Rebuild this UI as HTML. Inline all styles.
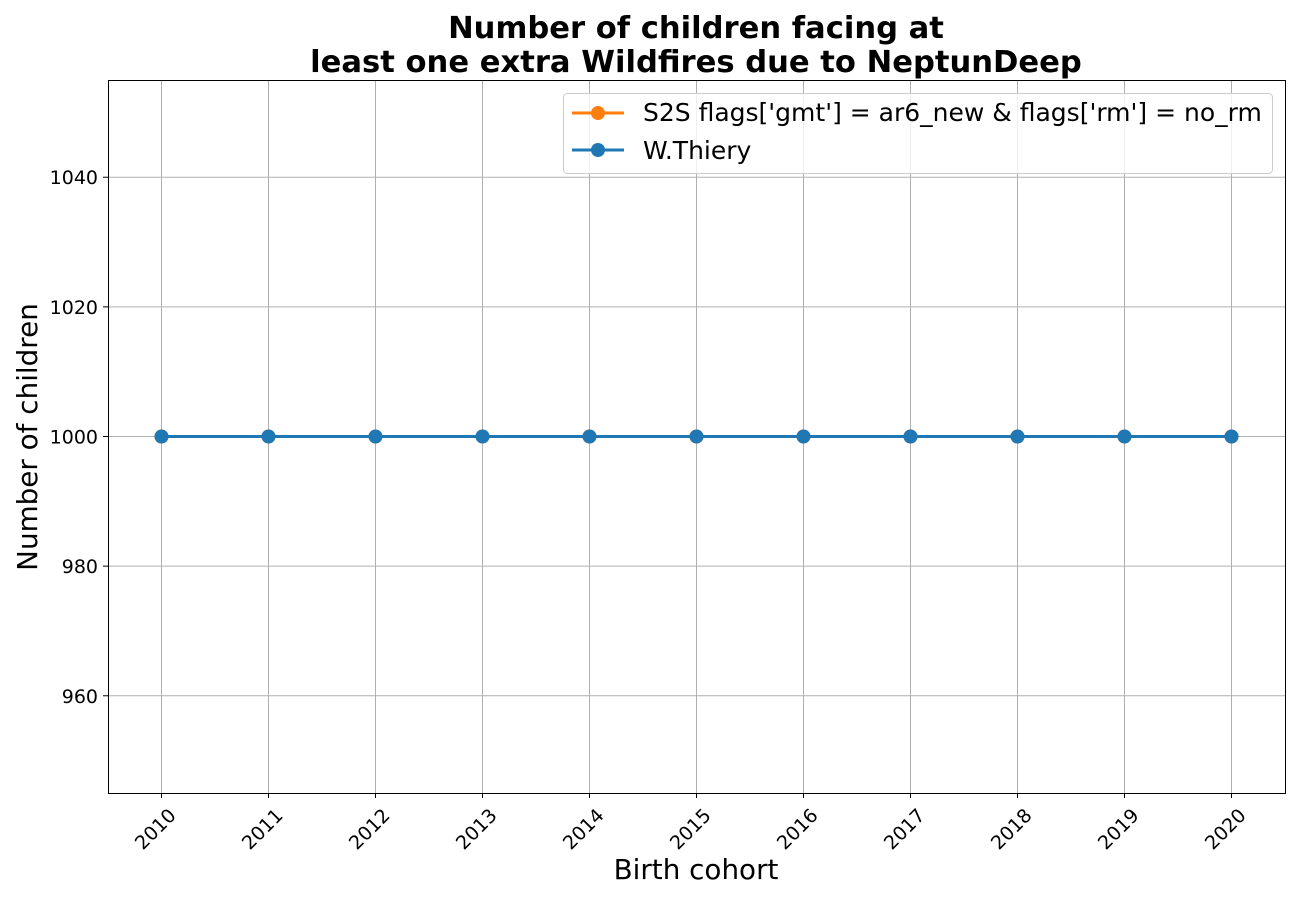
<!DOCTYPE html>
<html><head><meta charset="utf-8"><style>
body{margin:0;background:#fff;}
svg text{font-family:"DejaVu Sans","Liberation Sans",sans-serif;}
</style></head><body>
<svg id="chart" width="1300" height="900" xmlns="http://www.w3.org/2000/svg">
<text x="696" y="38" font-size="30.6" font-weight="bold" text-anchor="middle">Number of children facing at</text>
<text x="696" y="72" font-size="30.6" font-weight="bold" text-anchor="middle">least one extra Wildfires due to NeptunDeep</text>
<g id="grid"></g><g id="series"></g><g id="ticks"></g>
<rect x="108.5" y="80.5" width="1177" height="713" fill="none" stroke="#000" stroke-width="1"/>
<text transform="translate(37,437) rotate(-90)" font-size="27.8" text-anchor="middle">Number of children</text>
<text x="696" y="879" font-size="27.8" text-anchor="middle">Birth cohort</text>
<g>
<rect x="563.5" y="93.5" width="709" height="80" rx="4" fill="#fff" fill-opacity="0.8" stroke="#ccc"/>
<line x1="572" y1="113" x2="624" y2="113" stroke="#ff7f0e" stroke-width="3"/>
<circle cx="598" cy="113" r="7" fill="#ff7f0e"/>
<text x="643" y="121" font-size="25">S2S flags['gmt'] = ar6_new &amp; flags['rm'] = no_rm</text>
<line x1="572" y1="150" x2="624" y2="150" stroke="#1f77b4" stroke-width="3"/>
<circle cx="598" cy="150" r="7" fill="#1f77b4"/>
<text x="643" y="159" font-size="25">W.Thiery</text>
</g>
</svg>
<script>
const years=[2010,2011,2012,2013,2014,2015,2016,2017,2018,2019,2020];
const s2sValues=[1000,1000,1000,1000,1000,1000,1000,1000,1000,1000,1000];
const thieryValues=[1000,1000,1000,1000,1000,1000,1000,1000,1000,1000,1000];
const yTicks=[960,980,1000,1020,1040];
const NS='http://www.w3.org/2000/svg';
const X0=108,X1=1285,Y0=80,Y1=793,xmin=2009.5,xmax=2020.5,ymin=945,ymax=1055;
const xs=v=>X0+(v-xmin)/(xmax-xmin)*(X1-X0);
const ys=v=>Y1-(v-ymin)/(ymax-ymin)*(Y1-Y0);
function mk(t,a,p){const e=document.createElementNS(NS,t);for(const k in a)e.setAttribute(k,a[k]);p.appendChild(e);return e;}
const grid=document.getElementById('grid'),ticks=document.getElementById('ticks'),ser=document.getElementById('series');
years.forEach(y=>{const x=xs(y);
 const g=mk('line',{x1:x,x2:x,y1:Y0,y2:Y1,stroke:'#b0b0b0','stroke-width':1},grid);
 
 mk('line',{x1:x,x2:x,y1:Y1,y2:Y1+5,stroke:'#000'},ticks);
 const t=mk('text',{transform:`translate(${x+6},${Y1+14}) rotate(-45)`,'font-size':19,'text-anchor':'end','dominant-baseline':'hanging'},ticks);
 t.textContent=y;});
yTicks.forEach(v=>{const y=ys(v);
 const g=mk('line',{x1:X0,x2:X1,y1:y,y2:y,stroke:'#b0b0b0','stroke-width':1},grid);
 
 mk('line',{x1:X0-5,x2:X0,y1:y,y2:y,stroke:'#000'},ticks);
 const t=mk('text',{x:X0-10,y:y+7,'font-size':19,'text-anchor':'end'},ticks);
 t.textContent=v;});
function draw(vals,color,name){
 const pl=mk('polyline',{points:years.map((y,i)=>xs(y)+','+ys(vals[i])).join(' '),fill:'none',stroke:color,'stroke-width':3},ser);
 
 years.forEach((y,i)=>{const c=mk('circle',{cx:xs(y),cy:ys(vals[i]),r:7,fill:color},ser);
  });
}
draw(s2sValues,'#ff7f0e','s2s');
draw(thieryValues,'#1f77b4','wthiery');
</script>
</body></html>
